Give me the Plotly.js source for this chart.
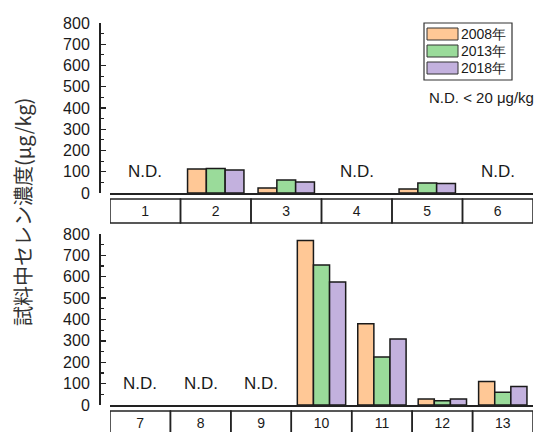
<!DOCTYPE html>
<html>
<head>
<meta charset="utf-8">
<script src="https://cdn.plot.ly/plotly-3.0.1.min.js"></script>
<style>html,body{margin:0;padding:0;background:#fff;}#chart{width:544px;height:432px;}</style>
</head>
<body>
<div id="chart"></div>
<script>
// ---- data ----
const seriesNames = ['2008年', '2013年', '2018年'];
const seriesColors = ['#FFC896', '#9ADB9A', '#C3B1DE'];
const topCategories = ['1', '2', '3', '4', '5', '6'];
const top2008 = [null, 113, 24, null, 19, null];
const top2013 = [null, 115, 61, null, 47, null];
const top2018 = [null, 108, 52, null, 45, null];
const bottomCategories = ['7', '8', '9', '10', '11', '12', '13'];
const bottom2008 = [null, null, null, 770, 380, 28, 110];
const bottom2013 = [null, null, null, 655, 225, 20, 60];
const bottom2018 = [null, null, null, 575, 309, 28, 86];
const yTickVals = [0, 100, 200, 300, 400, 500, 600, 700, 800];
const ndLabel = 'N.D.';
const ndNote = 'N.D. < 20 μg/kg';
const yTitle = '試料中セレン濃度(μg/kg)';

// ---- layout helpers ----
const W = 544, H = 432;
const px = v => v / W;
const py = v => 1 - v / H;
const txt = '#1a1a1a';
const latin = 'Liberation Sans, Arial, sans-serif';
const cjk = 'Noto Sans CJK JP, Noto Sans CJK SC, sans-serif';

const topSeries = [top2008, top2013, top2018];
const bottomSeries = [bottom2008, bottom2013, bottom2018];

const traces = [];
seriesNames.forEach((name, i) => {
  traces.push({type: 'bar', name: name, x: topCategories, y: topSeries[i], xaxis: 'x', yaxis: 'y',
    marker: {color: seriesColors[i], line: {color: '#1a1a1a', width: 1.5}}, showlegend: false, hoverinfo: 'skip'});
  traces.push({type: 'bar', name: name, x: bottomCategories, y: bottomSeries[i], xaxis: 'x2', yaxis: 'y2',
    marker: {color: seriesColors[i], line: {color: '#1a1a1a', width: 1.5}}, showlegend: false, hoverinfo: 'skip'});
});

const xDomain = [px(110), px(533)];
const yAxisCommon = {
  range: [0, 800], tickvals: yTickVals, ticks: 'inside', ticklen: 5, tickwidth: 1.3, tickcolor: '#222',
  minor: {dtick: 50, ticks: 'inside', ticklen: 3, tickwidth: 1.2, tickcolor: '#222'},
  showline: true, linecolor: '#222', linewidth: 1.5, showgrid: false, zeroline: false,
  tickfont: {family: latin, size: 16, color: txt}, anchor: 'free', position: px(99), ticklabelstandoff: 6,
  fixedrange: true
};
const xAxisCommon = {
  type: 'category', categoryorder: 'array', domain: xDomain, showline: true, linecolor: '#222', linewidth: 2, ticks: '',
  showgrid: false, zeroline: false, tickfont: {family: latin, size: 14, color: txt}, ticklabelstandoff: 4,
  fixedrange: true
};

const layout = {
  width: W, height: H, margin: {l: 0, r: 0, t: 0, b: 0}, paper_bgcolor: '#fff', plot_bgcolor: 'rgba(0,0,0,0)',
  barmode: 'group', bargap: 0.2, bargroupgap: 0, showlegend: false,
  xaxis: Object.assign({}, xAxisCommon, {anchor: 'y', categoryarray: topCategories,
    range: [-0.5, topCategories.length - 0.5]}),
  yaxis: Object.assign({}, yAxisCommon, {domain: [py(193), py(23)]}),
  xaxis2: Object.assign({}, xAxisCommon, {anchor: 'y2', categoryarray: bottomCategories,
    range: [-0.5, bottomCategories.length - 0.5]}),
  yaxis2: Object.assign({}, yAxisCommon, {domain: [py(405), py(234)]}),
  shapes: [], annotations: []
};

// category boxes
function addBoxes(cats, xref, yTop, yBot) {
  cats.forEach((c, i) => {
    layout.shapes.push({type: 'rect', xref: xref, yref: 'paper', x0: i - 0.5, x1: i + 0.5,
      y0: py(yBot), y1: py(yTop), line: {color: '#222', width: 1.5}, fillcolor: 'rgba(0,0,0,0)'});
  });
}
addBoxes(topCategories, 'x', 199, 223);
addBoxes(bottomCategories, 'x2', 411, 440);

// N.D. labels from data (index positions on the category axis)
function addND(cats, series, xref, yref) {
  cats.forEach((c, i) => {
    if (series.every(s => s[i] === null)) {
      layout.annotations.push({xref: xref, yref: yref, x: i, y: 100, text: ndLabel, showarrow: false,
        font: {family: latin, size: 17, color: txt}, xanchor: 'center', yanchor: 'middle'});
    }
  });
}
addND(topCategories, topSeries, 'x', 'y');
addND(bottomCategories, bottomSeries, 'x2', 'y2');

// legend (drawn)
layout.shapes.push({type: 'rect', xref: 'paper', yref: 'paper', x0: px(424), x1: px(512), y0: py(80), y1: py(23),
  line: {color: '#333', width: 1.2}, fillcolor: '#fff'});
const rowTops = [28, 45, 62];
seriesNames.forEach((name, i) => {
  layout.shapes.push({type: 'rect', xref: 'paper', yref: 'paper', x0: px(427), x1: px(458),
    y0: py(rowTops[i] + 12), y1: py(rowTops[i]), line: {color: '#333', width: 1}, fillcolor: seriesColors[i]});
  layout.annotations.push({xref: 'paper', yref: 'paper', x: px(459), y: py(rowTops[i] + 6), text: name,
    showarrow: false, xanchor: 'left', yanchor: 'middle', font: {family: latin, size: 14, color: txt}});
});

// note
layout.annotations.push({xref: 'paper', yref: 'paper', x: px(536), y: py(97.5), text: ndNote, showarrow: false,
  xanchor: 'right', yanchor: 'middle', font: {family: latin, size: 15, color: txt}});

// y title
layout.annotations.push({xref: 'paper', yref: 'paper', x: px(23), y: py(212), text: yTitle, showarrow: false,
  textangle: -90, xanchor: 'center', yanchor: 'middle', font: {family: cjk, size: 20, color: '#333'}});

Plotly.newPlot('chart', traces, layout, {staticPlot: true, displayModeBar: false});
</script>
</body>
</html>
